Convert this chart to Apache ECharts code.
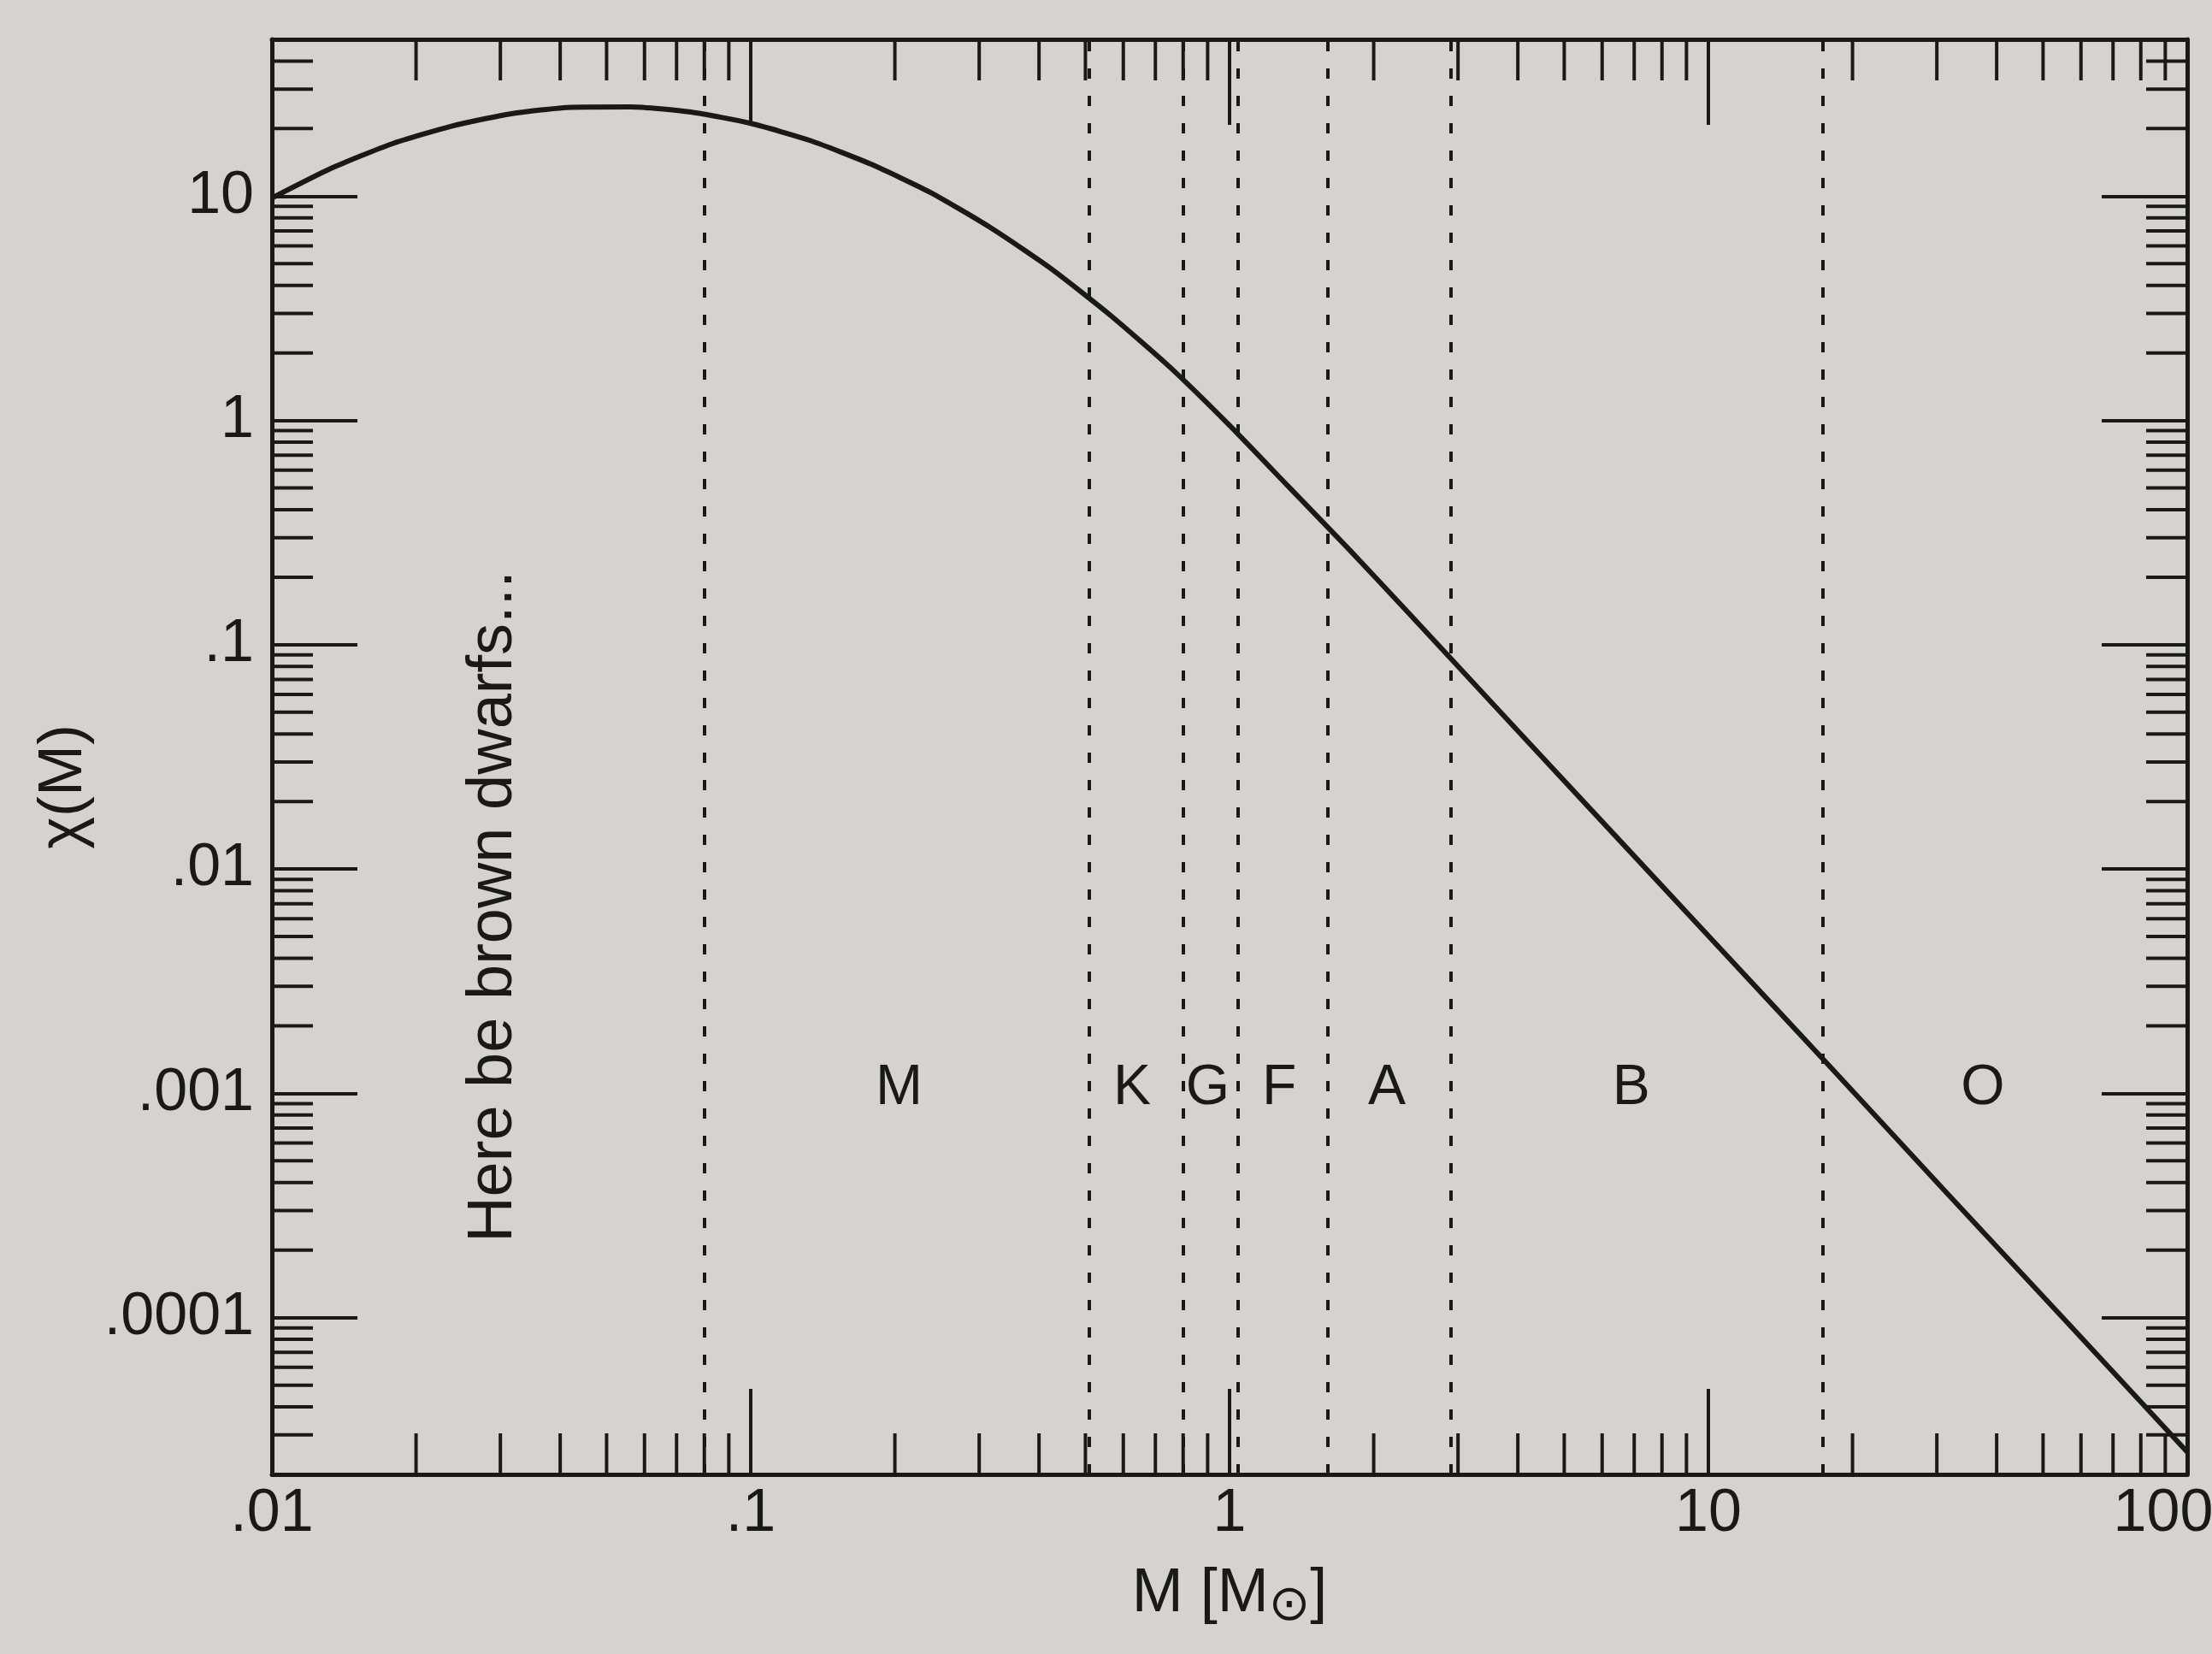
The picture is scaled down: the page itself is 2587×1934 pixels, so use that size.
<!DOCTYPE html>
<html>
<head>
<meta charset="utf-8">
<title>chi(M)</title>
<script src="https://cdn.jsdelivr.net/npm/echarts@6/dist/echarts.min.js"></script>
<style>
  html, body { margin: 0; padding: 0; background: #d6d3ce; }
  #chart { width: 2587px; height: 1934px; }
</style>
</head>
<body>
<div id="chart"></div>
<script>
// 曲线读数: 质量 M (太阳质量) 与 χ(M)
var massValues = [0.01, 0.0133, 0.0178, 0.0237, 0.0316, 0.0422, 0.0562, 0.075, 0.1, 0.133, 0.178, 0.237, 0.316, 0.422, 0.562, 0.75, 1.0, 1.33, 1.78, 2.37, 3.16, 5.62, 10, 17.8, 31.6, 56.2, 100];
var chiValues = [9.8, 13.3, 17.1, 20.5, 23.3, 24.9, 25.0, 23.7, 21.1, 17.7, 13.9, 10.4, 7.26, 4.78, 2.96, 1.73, 0.95, 0.505, 0.265, 0.138, 0.0711, 0.0189, 0.00504, 0.00134, 0.000356, 0.000095, 0.0000252];

// 光谱型分界 (虚线)
var boundaryMass = [0.08, 0.51, 0.8, 1.04, 1.6, 2.9, 17.3];
// 光谱型字母
var classNames = ['M', 'K', 'G', 'F', 'A', 'B', 'O'];
var classMass = [0.204, 0.626, 0.90, 1.27, 2.13, 6.9, 37.4];
var classChi = 0.00105;
// 棕矮星注释
var noteText = 'Here be brown dwarfs...';
var notePos = [0.0291, 0.0068];

// 刻度标签
var xTickLabels = ['.01', '.1', '1', '10', '100'];
var yTickLabels = ['.0001', '.001', '.01', '.1', '1', '10'];
var xMin = 0.01, xMax = 100, yMin = 2e-5, yMax = 50;

var ink = '#1b1918';
var fontFamily = '"Liberation Sans", Arial, "DejaVu Sans", sans-serif';

// 对数次刻度 2..9
var minorX = [], minorY = [];
for (var n = -2; n <= 1; n++) {
  for (var k = 2; k <= 9; k++) minorX.push(k * Math.pow(10, n));
}
for (var n2 = -5; n2 <= 1; n2++) {
  for (var k2 = 2; k2 <= 9; k2++) {
    var v = k2 * Math.pow(10, n2);
    if (v > yMin * 1.001 && v < yMax * 0.999) minorY.push(v);
  }
}

function decadeLabel(list, offset) {
  return function (val) {
    var lg = Math.log10(val);
    var e = Math.round(lg);
    if (Math.abs(lg - e) > 1e-6) return '';
    var s = list[e + offset];
    if (s === undefined) return '';
    if (s === '100') return '{last|100}';
    return s;
  };
}

var chart = echarts.init(document.getElementById('chart'));

var tickStyle = { show: true, inside: true, length: 100, lineStyle: { color: ink, width: 4 } };
var lineStyleAxis = { show: true, lineStyle: { color: ink, width: 5 } };

var option = {
  backgroundColor: '#d6d3ce',
  animation: false,
  grid: { left: 318, right: 29, top: 46, bottom: 210, containLabel: false, outerBoundsMode: 'none' },
  xAxis: [
    {
      type: 'log', logBase: 10, min: xMin, max: xMax, position: 'bottom',
      axisLine: lineStyleAxis, axisTick: tickStyle, splitLine: { show: false },
      axisLabel: {
        color: ink, fontSize: 70, fontFamily: fontFamily, margin: 12,
        showMinLabel: true, showMaxLabel: true,
        formatter: decadeLabel(xTickLabels, 2),
        rich: { last: { fontSize: 70, fontFamily: fontFamily, color: ink, padding: [0, 56, 0, 0] } }
      },
      name: '{m|M [M}{sub|⊙}{m|]}', nameLocation: 'middle', nameGap: 104,
      nameTextStyle: {
        color: ink, fontFamily: fontFamily, fontSize: 72,
        rich: {
          m: { fontSize: 72, lineHeight: 72, color: ink, fontFamily: fontFamily },
          sub: { fontSize: 58, lineHeight: 58, color: ink, fontFamily: '"DejaVu Sans", sans-serif', padding: [30, 0, 0, 0] }
        }
      }
    },
    {
      type: 'log', logBase: 10, min: xMin, max: xMax, position: 'top',
      axisLine: lineStyleAxis, axisTick: tickStyle, splitLine: { show: false },
      axisLabel: { show: false }
    }
  ],
  yAxis: [
    {
      type: 'log', logBase: 10, min: yMin, max: yMax, position: 'left',
      axisLine: lineStyleAxis, axisTick: tickStyle, splitLine: { show: false },
      axisLabel: {
        color: ink, fontSize: 70, fontFamily: fontFamily, margin: 21,
        formatter: decadeLabel(yTickLabels, 4)
      },
      name: 'χ(M)', nameLocation: 'middle', nameGap: 185, nameRotate: 90,
      nameTextStyle: { color: ink, fontSize: 72, fontFamily: fontFamily, padding: [0, 70, 0, 0] }
    },
    {
      type: 'log', logBase: 10, min: yMin, max: yMax, position: 'right',
      axisLine: lineStyleAxis, axisTick: tickStyle, splitLine: { show: false },
      axisLabel: { show: false }
    }
  ],
  series: [
    {
      name: 'chi',
      type: 'line',
      data: massValues.map(function (m, i) { return [m, chiValues[i]]; }),
      showSymbol: false,
      symbol: 'none',
      smooth: 0.2,
      lineStyle: { color: ink, width: 6 },
      z: 5,
      markLine: {
        silent: true,
        symbol: ['none', 'none'],
        label: { show: false },
        lineStyle: { color: ink, width: 4, type: [12, 20] },
        data: boundaryMass.map(function (m) { return { xAxis: m }; })
      }
    },
    {
      // 次刻度
      name: 'minorTicks',
      type: 'custom',
      silent: true,
      data: minorX.map(function (m) { return [m, yMin, 0]; })
        .concat(minorY.map(function (c) { return [xMin, c, 1]; })),
      renderItem: function (params, api) {
        var cs = params.coordSys;
        var p = api.coord([api.value(0), api.value(1)]);
        var L = 48;
        var st = { stroke: ink, lineWidth: 4 };
        if (api.value(2) === 0) {
          return {
            type: 'group', children: [
              { type: 'line', shape: { x1: p[0], y1: cs.y + cs.height, x2: p[0], y2: cs.y + cs.height - L }, style: st },
              { type: 'line', shape: { x1: p[0], y1: cs.y, x2: p[0], y2: cs.y + L }, style: st }
            ]
          };
        }
        return {
          type: 'group', children: [
            { type: 'line', shape: { x1: cs.x, y1: p[1], x2: cs.x + L, y2: p[1] }, style: st },
            { type: 'line', shape: { x1: cs.x + cs.width, y1: p[1], x2: cs.x + cs.width - L, y2: p[1] }, style: st }
          ]
        };
      }
    },
    {
      // 光谱型字母
      name: 'classes',
      type: 'custom',
      silent: true,
      data: classMass.map(function (m, i) { return [m, classChi, i]; }),
      renderItem: function (params, api) {
        var p = api.coord([api.value(0), api.value(1)]);
        return {
          type: 'text', x: p[0], y: p[1],
          style: {
            text: classNames[api.value(2)], fill: ink, fontSize: 66, fontFamily: fontFamily,
            align: 'center', verticalAlign: 'middle'
          }
        };
      }
    },
    {
      // 注释文字
      name: 'note',
      type: 'custom',
      silent: true,
      data: [notePos],
      renderItem: function (params, api) {
        var p = api.coord([api.value(0), api.value(1)]);
        return {
          type: 'text', x: p[0], y: p[1], rotation: Math.PI / 2,
          style: {
            text: noteText, fill: ink, fontSize: 74, fontFamily: fontFamily,
            align: 'center', verticalAlign: 'middle'
          }
        };
      }
    }
  ]
};

chart.setOption(option);
</script>
</body>
</html>
